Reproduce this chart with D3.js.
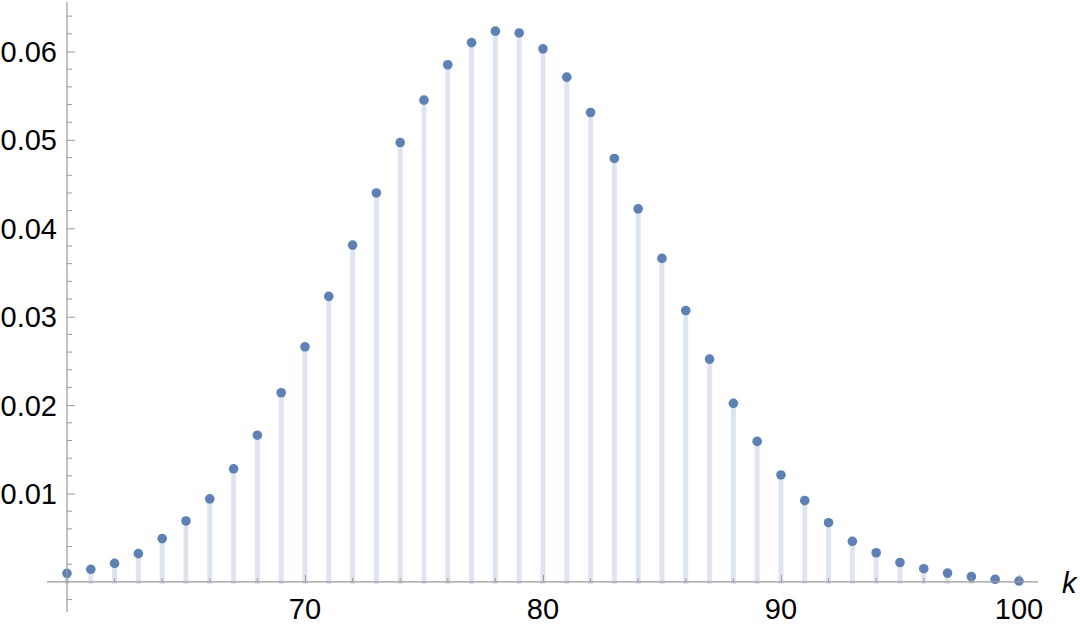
<!DOCTYPE html>
<html>
<head>
<meta charset="utf-8">
<script src="https://d3js.org/d3.v7.min.js"></script>
<style>
  body { margin: 0; background: #fff; }
  svg { display: block; }
</style>
</head>
<body>
<div id="chart"></div>
<script>
// values
var ks = [60, 61, 62, 63, 64, 65, 66, 67, 68, 69, 70, 71, 72, 73, 74, 75, 76, 77, 78, 79, 80,
  81, 82, 83, 84, 85, 86, 87, 88, 89, 90, 91, 92, 93, 94, 95, 96, 97, 98, 99, 100]
var probs = [0.00097, 0.00143, 0.0021, 0.0032, 0.0049, 0.0069, 0.0094, 0.0128, 0.0166, 0.0214,
  0.0266, 0.0323, 0.0381, 0.0440, 0.0497, 0.0545, 0.0585, 0.0610, 0.0623, 0.0621, 0.0603,
  0.0571, 0.0531, 0.0479, 0.0422, 0.0366, 0.0307, 0.0252, 0.0202, 0.0159, 0.0121,
  0.0092, 0.0067, 0.0046, 0.0033, 0.0022, 0.0015, 0.0010, 0.0006, 0.0003, 0.0001]
var xMajorTicks = [70, 80, 90, 100]
var yMajorTicks = [0.01, 0.02, 0.03, 0.04, 0.05, 0.06]
var xLabel = 'k'

var width = 1080
var height = 628
var pointColor = '#5E81B5'
var stemColor = 'rgb(222,229,240)'
var axisColor = '#9a9a9a'
var font = '"Liberation Sans", Arial, Helvetica, sans-serif'

var data = ks.map(function (k, i) {
  return { k: k, p: probs[i] }
})

var svg = d3
  .select('#chart')
  .append('svg')
  .attr('width', width)
  .attr('height', height)

var x = d3.scaleLinear().domain([59.16, 100.8]).range([47, 1038])
var y = d3.scaleLinear().domain([-0.0034, 0.0656]).range([612, 2])

// stems
svg
  .append('g')
  .selectAll('line')
  .data(data)
  .enter()
  .append('line')
  .attr('x1', function (d) { return x(d.k) })
  .attr('x2', function (d) { return x(d.k) })
  .attr('y1', y(0) + 2)
  .attr('y2', function (d) { return y(d.p) })
  .attr('stroke', stemColor)
  .attr('stroke-width', 5)

// points
svg
  .append('g')
  .selectAll('circle')
  .data(data)
  .enter()
  .append('circle')
  .attr('cx', function (d) { return x(d.k) })
  .attr('cy', function (d) { return y(d.p) })
  .attr('r', 4.8)
  .attr('fill', pointColor)

// x axis (ticks pointing up into the plot)
var xMinor = d3.range(62, 101, 2).filter(function (v) {
  return xMajorTicks.indexOf(v) < 0
})

var xAxis = svg
  .append('g')
  .attr('transform', 'translate(0,' + y(0) + ')')
  .call(
    d3.axisTop(x).tickValues(xMajorTicks).tickSize(7).tickFormat('')
  )
xAxis.select('.domain').remove()
xAxis.append('line')
  .attr('x1', x.range()[0])
  .attr('x2', x.range()[1])
  .attr('stroke', axisColor)
  .attr('stroke-width', 1.2)

xAxis
  .selectAll('.minor')
  .data(xMinor)
  .enter()
  .append('line')
  .attr('class', 'minor')
  .attr('x1', function (d) { return x(d) })
  .attr('x2', function (d) { return x(d) })
  .attr('y1', 0)
  .attr('y2', -4)
  .attr('stroke', axisColor)

xAxis
  .selectAll('.xlab')
  .data(xMajorTicks)
  .enter()
  .append('text')
  .attr('class', 'xlab')
  .attr('x', function (d) { return x(d) })
  .attr('y', 37)
  .attr('text-anchor', 'middle')
  .style('font-family', font)
  .style('font-size', '29px')
  .attr('fill', '#000')
  .text(function (d) { return d })

// y axis (ticks pointing right)
var yMinor = d3.range(-0.002, 0.0641, 0.002).filter(function (v) {
  return Math.abs(Math.round(v * 100) - v * 100) > 1e-6
})

var yAxis = svg
  .append('g')
  .attr('transform', 'translate(' + x(60) + ',0)')
  .call(d3.axisRight(y).tickValues(yMajorTicks).tickSize(8).tickFormat(''))
yAxis.select('.domain').remove()
yAxis.append('line')
  .attr('y1', y.range()[0])
  .attr('y2', y.range()[1])
  .attr('stroke', axisColor)
  .attr('stroke-width', 1.2)

yAxis
  .selectAll('.minor')
  .data(yMinor)
  .enter()
  .append('line')
  .attr('class', 'minor')
  .attr('y1', function (d) { return y(d) })
  .attr('y2', function (d) { return y(d) })
  .attr('x1', 0)
  .attr('x2', 5)
  .attr('stroke', axisColor)

yAxis
  .selectAll('.ylab')
  .data(yMajorTicks)
  .enter()
  .append('text')
  .attr('class', 'ylab')
  .attr('x', -10)
  .attr('y', function (d) { return y(d) })
  .attr('dy', '0.36em')
  .attr('text-anchor', 'end')
  .style('font-family', font)
  .style('font-size', '29px')
  .attr('fill', '#000')
  .text(function (d) { return d3.format('.2f')(d) })

svg.selectAll('.tick line').attr('stroke', axisColor)

// axis label
svg
  .append('text')
  .attr('x', 1062)
  .attr('y', y(0) + 11)
  .style('font-family', font)
  .style('font-size', '29px')
  .style('font-style', 'italic')
  .attr('fill', '#000')
  .text(xLabel)
</script>
</body>
</html>
